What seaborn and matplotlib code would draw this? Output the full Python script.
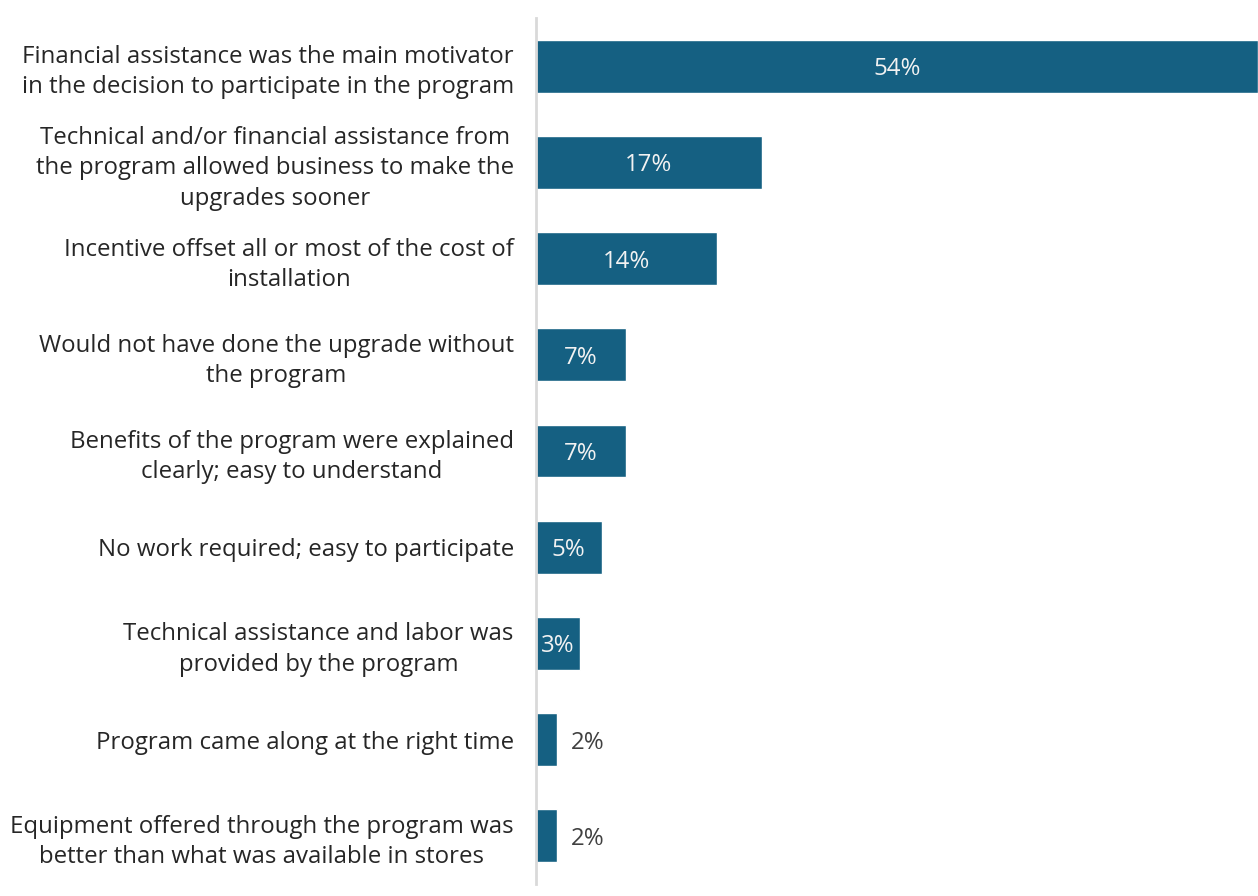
import matplotlib
matplotlib.use("Agg")
import matplotlib.pyplot as plt
import seaborn as sns
import pandas as pd

categories = [
    "Financial assistance was the main motivator\nin the decision to participate in the program",
    "Technical and/or financial assistance from\nthe program allowed business to make the\nupgrades sooner",
    "Incentive offset all or most of the cost of\ninstallation",
    "Would not have done the upgrade without\nthe program",
    "Benefits of the program were explained\nclearly; easy to understand",
    "No work required; easy to participate",
    "Technical assistance and labor was\nprovided by the program",
    "Program came along at the right time",
    "Equipment offered through the program was\nbetter than what was available in stores",
]
values = [54.0, 16.9, 13.5, 6.7, 6.7, 4.9, 3.3, 1.6, 1.6]
value_labels = ["54%", "17%", "14%", "7%", "7%", "5%", "3%", "2%", "2%"]

BAR = "#156082"
TXT = "#262626"
FS = 17.3

sns.set_theme(style="white")
plt.rcParams["font.family"] = ["Open Sans", "DejaVu Sans"]

df = pd.DataFrame({"cat": categories, "val": values})

fig = plt.figure(figsize=(12.58, 8.96), dpi=100)
ax = fig.add_axes([536 / 1258, 1 - 884 / 896, 1 - 536 / 1258, (884 - 18) / 896])
sns.barplot(data=df, y="cat", x="val", orient="h", color=BAR, width=0.55,
            saturation=1, ax=ax)

ax.set_xlim(0, 54)
ax.set_ylim(8.5, -0.5)
ax.set_xlabel("")
ax.set_ylabel("")
ax.set_xticks([])
for s in ["top", "right", "bottom"]:
    ax.spines[s].set_visible(False)
ax.spines["left"].set_color("#d9d9d9")
ax.spines["left"].set_linewidth(2)
ax.tick_params(axis="y", length=0, pad=16, labelsize=FS, labelcolor=TXT)
for t in ax.get_yticklabels():
    t.set_multialignment("center")
    t.set_linespacing(1.34)

for i, (v, lab) in enumerate(zip(values, value_labels)):
    if v >= 3:
        ax.text(v / 2, i, lab, ha="center", va="center_baseline", color="#f2f2f2", fontsize=FS)
    else:
        ax.text(v + 1.0, i, lab, ha="left", va="center_baseline", color="#404040", fontsize=FS)

fig.savefig("out.png", dpi=100)
